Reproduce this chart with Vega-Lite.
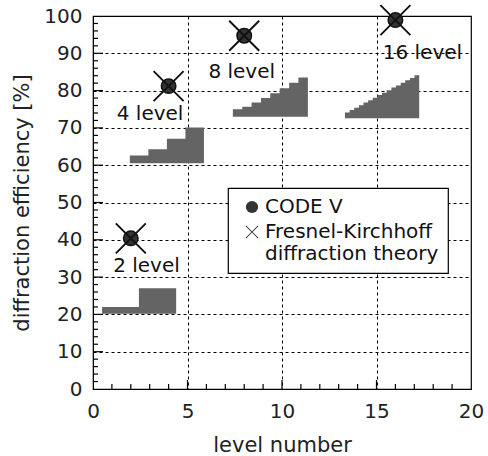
{
  "$schema": "https://vega.github.io/schema/vega-lite/v6.json",
  "width": 378,
  "height": 373,
  "autosize": {"type": "none"},
  "padding": {"left": 93, "top": 16, "right": 17, "bottom": 67},
  "config": {
    "view": {"stroke": "#000", "strokeWidth": 1.2},
    "font": "DejaVu Sans",
    "legend": {"strokeWidth": 1.2, "cornerRadius": 0}
  },
  "resolve": {"axis": {"x": "independent", "y": "independent"}},
  "layer": [
    {
      "data": {"values": [
        {"shape": "s2", "x": 0.48, "y": 22.0, "y2": 20.2},
        {"shape": "s2", "x": 2.43, "y": 27.0, "y2": 20.2},
        {"shape": "s2", "x": 4.40, "y": 27.0, "y2": 20.2},
        {"shape": "s4", "x": 1.95, "y": 62.6, "y2": 60.5},
        {"shape": "s4", "x": 2.93, "y": 64.3, "y2": 60.5},
        {"shape": "s4", "x": 3.91, "y": 67.1, "y2": 60.5},
        {"shape": "s4", "x": 4.89, "y": 70.1, "y2": 60.5},
        {"shape": "s4", "x": 5.87, "y": 70.1, "y2": 60.5},
        {"shape": "s8", "x": 7.40, "y": 75.0, "y2": 73.0},
        {"shape": "s8", "x": 7.90, "y": 75.7, "y2": 73.0},
        {"shape": "s8", "x": 8.39, "y": 76.8, "y2": 73.0},
        {"shape": "s8", "x": 8.89, "y": 78.0, "y2": 73.0},
        {"shape": "s8", "x": 9.38, "y": 79.3, "y2": 73.0},
        {"shape": "s8", "x": 9.88, "y": 80.6, "y2": 73.0},
        {"shape": "s8", "x": 10.38, "y": 82.1, "y2": 73.0},
        {"shape": "s8", "x": 10.87, "y": 83.5, "y2": 73.0},
        {"shape": "s8", "x": 11.37, "y": 83.5, "y2": 73.0},
        {"shape": "s16", "x": 13.33, "y": 74.1, "y2": 72.6},
        {"shape": "s16", "x": 13.58, "y": 74.8, "y2": 72.6},
        {"shape": "s16", "x": 13.82, "y": 75.4, "y2": 72.6},
        {"shape": "s16", "x": 14.07, "y": 76.1, "y2": 72.6},
        {"shape": "s16", "x": 14.31, "y": 76.8, "y2": 72.6},
        {"shape": "s16", "x": 14.56, "y": 77.4, "y2": 72.6},
        {"shape": "s16", "x": 14.80, "y": 78.1, "y2": 72.6},
        {"shape": "s16", "x": 15.05, "y": 78.8, "y2": 72.6},
        {"shape": "s16", "x": 15.29, "y": 79.4, "y2": 72.6},
        {"shape": "s16", "x": 15.54, "y": 80.1, "y2": 72.6},
        {"shape": "s16", "x": 15.79, "y": 80.8, "y2": 72.6},
        {"shape": "s16", "x": 16.03, "y": 81.4, "y2": 72.6},
        {"shape": "s16", "x": 16.28, "y": 82.1, "y2": 72.6},
        {"shape": "s16", "x": 16.52, "y": 82.8, "y2": 72.6},
        {"shape": "s16", "x": 16.77, "y": 83.4, "y2": 72.6},
        {"shape": "s16", "x": 17.01, "y": 84.1, "y2": 72.6},
        {"shape": "s16", "x": 17.26, "y": 84.1, "y2": 72.6}
      ]},
      "mark": {"type": "area", "interpolate": "step-after", "color": "#646464", "opacity": 1},
      "encoding": {
        "x": {
          "field": "x", "type": "quantitative",
          "scale": {"domain": [0, 20], "nice": false, "zero": false},
          "axis": {
            "title": "level number",
            "values": [0, 5, 10, 15, 20],
            "ticks": false,
            "grid": true,
            "gridColor": "#000",
            "gridDash": [3, 3],
            "gridOpacity": {"condition": {"test": "datum.value > 0 && datum.value < 20", "value": 1}, "value": 0},
            "domainColor": "#000",
            "labelFontSize": 20, "labelColor": "#222", "labelPadding": 12,
            "labelFlush": false, "labelOverlap": false,
            "titleFontSize": 21, "titleFontWeight": "normal", "titleColor": "#222", "titlePadding": 13
          }
        },
        "y": {
          "field": "y", "type": "quantitative",
          "scale": {"domain": [0, 100], "nice": false},
          "axis": {
            "title": "diffraction efficiency [%]",
            "values": [0, 10, 20, 30, 40, 50, 60, 70, 80, 90, 100],
            "ticks": false,
            "grid": true,
            "gridColor": "#000",
            "gridDash": [3, 3],
            "gridOpacity": {"condition": {"test": "datum.value > 0 && datum.value < 100", "value": 1}, "value": 0},
            "domainColor": "#000",
            "labelFontSize": 20, "labelColor": "#222", "labelPadding": 11,
            "labelFlush": false, "labelOverlap": false,
            "titleFontSize": 21, "titleFontWeight": "normal", "titleColor": "#222", "titlePadding": 11
          }
        },
        "y2": {"field": "y2"},
        "detail": {"field": "shape", "type": "nominal"}
      }
    },
    {
      "data": {"values": [
        {"x": 1}, {"x": 2}, {"x": 3}, {"x": 4}, {"x": 6}, {"x": 7}, {"x": 8}, {"x": 9},
        {"x": 11}, {"x": 12}, {"x": 13}, {"x": 14}, {"x": 16}, {"x": 17}, {"x": 18}, {"x": 19}
      ]},
      "mark": {"type": "tick", "orient": "vertical", "color": "#000", "size": 5, "thickness": 1.2, "yOffset": -2.5, "opacity": 1},
      "encoding": {
        "x": {"field": "x", "type": "quantitative", "scale": {"domain": [0, 20], "nice": false, "zero": false}, "axis": null},
        "y": {"datum": 0, "type": "quantitative", "scale": {"domain": [0, 100], "nice": false}, "axis": null}
      }
    },
    {
      "data": {"values": [{"x": 5}, {"x": 10}, {"x": 15}]},
      "mark": {"type": "tick", "orient": "vertical", "color": "#000", "size": 9, "thickness": 1.2, "yOffset": -4.5, "opacity": 1},
      "encoding": {
        "x": {"field": "x", "type": "quantitative", "scale": {"domain": [0, 20], "nice": false, "zero": false}, "axis": null},
        "y": {"datum": 0, "type": "quantitative", "scale": {"domain": [0, 100], "nice": false}, "axis": null}
      }
    },
    {
      "data": {"values": [
        {"y": 2}, {"y": 4}, {"y": 6}, {"y": 8}, {"y": 12}, {"y": 14}, {"y": 16}, {"y": 18},
        {"y": 22}, {"y": 24}, {"y": 26}, {"y": 28}, {"y": 32}, {"y": 34}, {"y": 36}, {"y": 38},
        {"y": 42}, {"y": 44}, {"y": 46}, {"y": 48}, {"y": 52}, {"y": 54}, {"y": 56}, {"y": 58},
        {"y": 62}, {"y": 64}, {"y": 66}, {"y": 68}, {"y": 72}, {"y": 74}, {"y": 76}, {"y": 78},
        {"y": 82}, {"y": 84}, {"y": 86}, {"y": 88}, {"y": 92}, {"y": 94}, {"y": 96}, {"y": 98}
      ]},
      "mark": {"type": "tick", "orient": "horizontal", "color": "#000", "size": 5, "thickness": 1.2, "xOffset": 2.5, "opacity": 1},
      "encoding": {
        "x": {"datum": 0, "type": "quantitative", "scale": {"domain": [0, 20], "nice": false, "zero": false}, "axis": null},
        "y": {"field": "y", "type": "quantitative", "scale": {"domain": [0, 100], "nice": false}, "axis": null}
      }
    },
    {
      "data": {"values": [
        {"y": 10}, {"y": 20}, {"y": 30}, {"y": 40}, {"y": 50}, {"y": 60}, {"y": 70}, {"y": 80}, {"y": 90}
      ]},
      "mark": {"type": "tick", "orient": "horizontal", "color": "#000", "size": 10, "thickness": 1.2, "xOffset": 5, "opacity": 1},
      "encoding": {
        "x": {"datum": 0, "type": "quantitative", "scale": {"domain": [0, 20], "nice": false, "zero": false}, "axis": null},
        "y": {"field": "y", "type": "quantitative", "scale": {"domain": [0, 100], "nice": false}, "axis": null}
      }
    },
    {
      "data": {"values": [
        {"x": 2, "y": 40.4, "method": "CODE V"},
        {"x": 4, "y": 81.2, "method": "CODE V"},
        {"x": 8, "y": 94.7, "method": "CODE V"},
        {"x": 16, "y": 98.9, "method": "CODE V"}
      ]},
      "mark": {"type": "point", "filled": true, "fill": "#333333", "stroke": "#111111", "strokeWidth": 1.5, "opacity": 1, "size": 210},
      "encoding": {
        "x": {"field": "x", "type": "quantitative", "scale": {"domain": [0, 20], "nice": false, "zero": false}, "axis": null},
        "y": {"field": "y", "type": "quantitative", "scale": {"domain": [0, 100], "nice": false}, "axis": null},
        "shape": {
          "field": "method", "type": "nominal",
          "scale": {"domain": ["CODE V", "Fresnel-Kirchhoff diffraction theory"], "range": ["circle", "M-0.955,-1.045L1.045,0.955L0.955,1.045L-1.045,-0.955ZM0.955,-1.045L1.045,-0.955L-0.955,1.045L-1.045,0.955Z"]},
          "legend": {
            "title": null,
            "orient": "none",
            "legendX": 135,
            "legendY": 172,
            "padding": 9,
            "strokeColor": "#000",
            "fillColor": "#fff",
            "symbolSize": 150,
            "symbolStrokeWidth": 0.7,
            "symbolFillColor": "#222222",
            "symbolStrokeColor": "#222222",
            "symbolOffset": 5,
            "labelFontSize": 20,
            "labelFont": "DejaVu Sans",
            "labelColor": "#111",
            "labelOffset": 3,
            "labelLimit": 400,
            "rowPadding": 5,
            "labelExpr": "datum.label == 'CODE V' ? datum.label : ['Fresnel-Kirchhoff', 'diffraction theory']"
          }
        }
      }
    },
    {
      "data": {"values": [
        {"x": 2, "y": 40.4, "method": "Fresnel-Kirchhoff diffraction theory"},
        {"x": 4, "y": 81.2, "method": "Fresnel-Kirchhoff diffraction theory"},
        {"x": 8, "y": 94.7, "method": "Fresnel-Kirchhoff diffraction theory"},
        {"x": 16, "y": 98.9, "method": "Fresnel-Kirchhoff diffraction theory"}
      ]},
      "mark": {"type": "point", "filled": true, "fill": "#111111", "strokeWidth": 0, "opacity": 1, "size": 900},
      "encoding": {
        "x": {"field": "x", "type": "quantitative", "scale": {"domain": [0, 20], "nice": false, "zero": false}, "axis": null},
        "y": {"field": "y", "type": "quantitative", "scale": {"domain": [0, 100], "nice": false}, "axis": null},
        "shape": {
          "field": "method", "type": "nominal",
          "scale": {"domain": ["CODE V", "Fresnel-Kirchhoff diffraction theory"], "range": ["circle", "M-0.955,-1.045L1.045,0.955L0.955,1.045L-1.045,-0.955ZM0.955,-1.045L1.045,-0.955L-0.955,1.045L-1.045,0.955Z"]}
        }
      }
    },
    {
      "data": {"values": [
        {"x": 2.83, "y": 33.1, "label": "2 level"},
        {"x": 3.02, "y": 73.8, "label": "4 level"},
        {"x": 7.87, "y": 84.9, "label": "8 level"},
        {"x": 17.43, "y": 90.2, "label": "16 level"}
      ]},
      "mark": {"type": "text", "fontSize": 20, "font": "DejaVu Sans", "color": "#111", "align": "center", "baseline": "middle"},
      "encoding": {
        "x": {"field": "x", "type": "quantitative", "scale": {"domain": [0, 20], "nice": false, "zero": false}, "axis": null},
        "y": {"field": "y", "type": "quantitative", "scale": {"domain": [0, 100], "nice": false}, "axis": null},
        "text": {"field": "label", "type": "nominal"}
      }
    }
  ]
}
